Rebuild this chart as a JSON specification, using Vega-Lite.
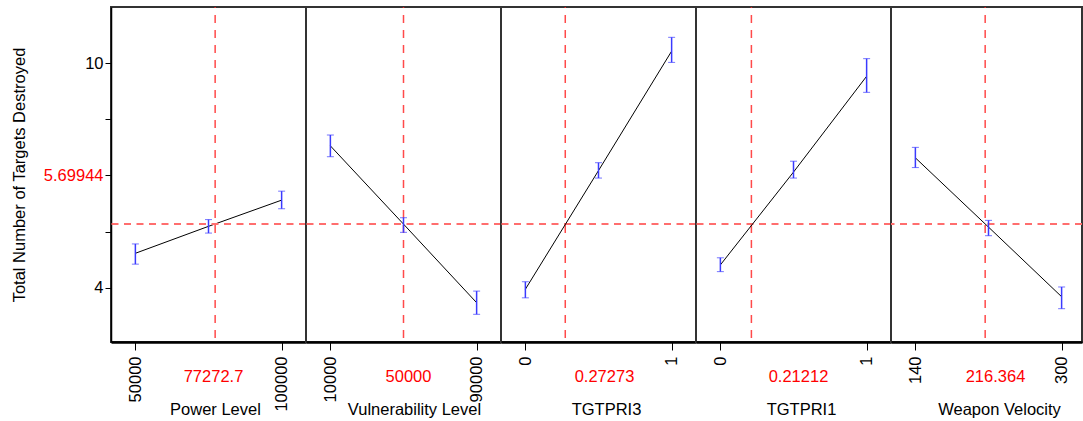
{
  "$schema": "https://vega.github.io/schema/vega-lite/v6.json",
  "padding": {"left": 10, "top": 5, "right": 0, "bottom": 0},
  "spacing": 0,
  "bounds": "flush",
  "config": {
    "font": "Liberation Sans",
    "view": {"stroke": "#333333", "strokeWidth": 2},
    "concat": {"spacing": 0},
    "axis": {"grid": false, "labelFont": "Liberation Sans", "titleFont": "Liberation Sans", "labelFontSize": 16.5, "titleFontSize": 16.5, "titleFontWeight": "normal", "labelColor": "black", "titleColor": "black", "tickColor": "black", "domainColor": "black"}
  },
  "datasets": {
    "profile": [
      {"factor": "Power Level", "level": 50000, "mean": 4.92, "lo": 4.63, "hi": 5.17},
      {"factor": "Power Level", "level": 75000, "mean": 5.64, "lo": 5.46, "hi": 5.82},
      {"factor": "Power Level", "level": 100000, "mean": 6.34, "lo": 6.11, "hi": 6.58},
      {"factor": "Vulnerability Level", "level": 10000, "mean": 7.79, "lo": 7.5, "hi": 8.08},
      {"factor": "Vulnerability Level", "level": 50000, "mean": 5.7, "lo": 5.48, "hi": 5.87},
      {"factor": "Vulnerability Level", "level": 90000, "mean": 3.6, "lo": 3.29, "hi": 3.91},
      {"factor": "TGTPRI3", "level": 0, "mean": 3.96, "lo": 3.73, "hi": 4.16},
      {"factor": "TGTPRI3", "level": 0.5, "mean": 7.13, "lo": 6.93, "hi": 7.34},
      {"factor": "TGTPRI3", "level": 1, "mean": 10.32, "lo": 10.02, "hi": 10.69},
      {"factor": "TGTPRI1", "level": 0, "mean": 4.61, "lo": 4.43, "hi": 4.8},
      {"factor": "TGTPRI1", "level": 0.5, "mean": 7.09, "lo": 6.93, "hi": 7.38},
      {"factor": "TGTPRI1", "level": 1, "mean": 9.65, "lo": 9.22, "hi": 10.12},
      {"factor": "Weapon Velocity", "level": 140, "mean": 7.47, "lo": 7.21, "hi": 7.75},
      {"factor": "Weapon Velocity", "level": 220, "mean": 5.62, "lo": 5.39, "hi": 5.8},
      {"factor": "Weapon Velocity", "level": 300, "mean": 3.76, "lo": 3.44, "hi": 4.02}
    ],
    "current": [
      {"factor": "Power Level", "setting": 77272.7, "pred": 5.69944},
      {"factor": "Vulnerability Level", "setting": 50000, "pred": 5.69944},
      {"factor": "TGTPRI3", "setting": 0.27273, "pred": 5.69944},
      {"factor": "TGTPRI1", "setting": 0.21212, "pred": 5.69944},
      {"factor": "Weapon Velocity", "setting": 216.364, "pred": 5.69944}
    ]
  },
  "hconcat": [
    {
      "width": 195, "height": 335,
      "resolve": {"axis": {"x": "independent"}},
      "layer": [
        {"data": {"name": "current"}, "transform": [{"filter": "datum.factor == 'Power Level'"}],
         "mark": {"type": "rule", "color": "#ff2a2a", "strokeWidth": 1.5, "strokeDash": [8, 7], "strokeDashOffset": 7, "opacity": 0.85},
         "encoding": {"x": {"field": "setting", "type": "quantitative", "scale": {"domain": [41666.67, 108333.33], "nice": false, "zero": false},
           "axis": {"orient": "bottom", "domain": false, "ticks": false, "labels": false, "title": "77272.7", "titleColor": "red", "titleX": 102, "titleY": 39.5, "titleBaseline": "alphabetic"}}}},
        {"data": {"name": "profile"}, "transform": [{"filter": "datum.factor == 'Power Level'"}],
         "mark": {"type": "line", "color": "black", "strokeWidth": 1},
         "encoding": {
           "x": {"field": "level", "type": "quantitative", "scale": {"domain": [41666.67, 108333.33], "nice": false, "zero": false},
             "axis": {"orient": "bottom", "values": [50000, 100000], "format": "d", "labelAngle": -90, "labelPadding": 6, "tickSize": 8, "domainWidth": 2.5, "title": "Power Level", "titleX": 104, "titleY": 72.5, "titleBaseline": "alphabetic"}},
           "y": {"field": "mean", "type": "quantitative", "title": "Total Number of Targets Destroyed", "scale": {"domain": [2.55, 11.5], "nice": false, "zero": false},
             "axis": {"values": [4, 5.5, 7, 8.5, 10], "labelExpr": "datum.value == 7 ? '5.69944' : ((datum.value == 5.5 || datum.value == 8.5) ? '' : datum.label)", "labelColor": {"condition": {"test": "datum.value == 7", "value": "red"}, "value": "black"}, "tickSize": 6, "labelPadding": 2, "domainWidth": 1.5, "title": "Total Number of Targets Destroyed", "titlePadding": 16}}}},
        {"data": {"name": "current"}, "transform": [{"filter": "datum.factor == 'Power Level'"}],
         "mark": {"type": "rule", "color": "#ff6e6e", "strokeWidth": 2, "strokeDash": [7, 5.5]},
         "encoding": {"y": {"field": "pred", "type": "quantitative", "title": "Total Number of Targets Destroyed", "scale": {"domain": [2.55, 11.5], "nice": false, "zero": false}}}},
        {"data": {"name": "profile"}, "transform": [{"filter": "datum.factor == 'Power Level'"}],
         "mark": {"type": "errorbar", "color": "#3a3aff", "ticks": {"size": 7}, "rule": {"strokeWidth": 1.5}},
         "encoding": {"x": {"field": "level", "type": "quantitative", "axis": null}, "y": {"field": "lo", "type": "quantitative", "title": "Total Number of Targets Destroyed"}, "y2": {"field": "hi", "title": "Total Number of Targets Destroyed"}}}
      ]
    },
    {
      "width": 195, "height": 335,
      "resolve": {"axis": {"x": "independent"}},
      "layer": [
        {"data": {"name": "current"}, "transform": [{"filter": "datum.factor == 'Vulnerability Level'"}],
         "mark": {"type": "rule", "color": "#ff2a2a", "strokeWidth": 1.5, "strokeDash": [8, 7], "strokeDashOffset": 7, "opacity": 0.85},
         "encoding": {"x": {"field": "setting", "type": "quantitative", "scale": {"domain": [-3333.33, 103333.33], "nice": false, "zero": false},
           "axis": {"orient": "bottom", "domain": false, "ticks": false, "labels": false, "title": "50000", "titleColor": "red", "titleX": 102, "titleY": 39.5, "titleBaseline": "alphabetic"}}}},
        {"data": {"name": "current"}, "transform": [{"filter": "datum.factor == 'Vulnerability Level'"}],
         "mark": {"type": "rule", "color": "#ff6e6e", "strokeWidth": 2, "strokeDash": [7, 5.5]},
         "encoding": {"y": {"field": "pred", "type": "quantitative", "scale": {"domain": [2.55, 11.5], "nice": false, "zero": false}, "axis": null}}},
        {"data": {"name": "profile"}, "transform": [{"filter": "datum.factor == 'Vulnerability Level'"}],
         "mark": {"type": "line", "color": "black", "strokeWidth": 1},
         "encoding": {
           "x": {"field": "level", "type": "quantitative", "scale": {"domain": [-3333.33, 103333.33], "nice": false, "zero": false},
             "axis": {"orient": "bottom", "values": [10000, 90000], "format": "d", "labelAngle": -90, "labelPadding": 6, "tickSize": 8, "domainWidth": 2.5, "title": "Vulnerability Level", "titleX": 108, "titleY": 72.5, "titleBaseline": "alphabetic"}},
           "y": {"field": "mean", "type": "quantitative", "scale": {"domain": [2.55, 11.5], "nice": false, "zero": false}, "axis": null}}},
        {"data": {"name": "profile"}, "transform": [{"filter": "datum.factor == 'Vulnerability Level'"}],
         "mark": {"type": "errorbar", "color": "#3a3aff", "ticks": {"size": 7}, "rule": {"strokeWidth": 1.5}},
         "encoding": {"x": {"field": "level", "type": "quantitative", "axis": null}, "y": {"field": "lo", "type": "quantitative", "axis": null}, "y2": {"field": "hi"}}}
      ]
    },
    {
      "width": 195, "height": 335,
      "resolve": {"axis": {"x": "independent"}},
      "layer": [
        {"data": {"name": "current"}, "transform": [{"filter": "datum.factor == 'TGTPRI3'"}],
         "mark": {"type": "rule", "color": "#ff2a2a", "strokeWidth": 1.5, "strokeDash": [8, 7], "strokeDashOffset": 7, "opacity": 0.85},
         "encoding": {"x": {"field": "setting", "type": "quantitative", "scale": {"domain": [-0.166667, 1.166667], "nice": false, "zero": false},
           "axis": {"orient": "bottom", "domain": false, "ticks": false, "labels": false, "title": "0.27273", "titleColor": "red", "titleX": 103, "titleY": 39.5, "titleBaseline": "alphabetic"}}}},
        {"data": {"name": "current"}, "transform": [{"filter": "datum.factor == 'TGTPRI3'"}],
         "mark": {"type": "rule", "color": "#ff6e6e", "strokeWidth": 2, "strokeDash": [7, 5.5]},
         "encoding": {"y": {"field": "pred", "type": "quantitative", "scale": {"domain": [2.55, 11.5], "nice": false, "zero": false}, "axis": null}}},
        {"data": {"name": "profile"}, "transform": [{"filter": "datum.factor == 'TGTPRI3'"}],
         "mark": {"type": "line", "color": "black", "strokeWidth": 1},
         "encoding": {
           "x": {"field": "level", "type": "quantitative", "scale": {"domain": [-0.166667, 1.166667], "nice": false, "zero": false},
             "axis": {"orient": "bottom", "values": [0, 1], "format": "d", "labelAngle": -90, "labelPadding": 6, "tickSize": 8, "domainWidth": 2.5, "title": "TGTPRI3", "titleX": 105, "titleY": 72.5, "titleBaseline": "alphabetic"}},
           "y": {"field": "mean", "type": "quantitative", "scale": {"domain": [2.55, 11.5], "nice": false, "zero": false}, "axis": null}}},
        {"data": {"name": "profile"}, "transform": [{"filter": "datum.factor == 'TGTPRI3'"}],
         "mark": {"type": "errorbar", "color": "#3a3aff", "ticks": {"size": 7}, "rule": {"strokeWidth": 1.5}},
         "encoding": {"x": {"field": "level", "type": "quantitative", "axis": null}, "y": {"field": "lo", "type": "quantitative", "axis": null}, "y2": {"field": "hi"}}}
      ]
    },
    {
      "width": 195, "height": 335,
      "resolve": {"axis": {"x": "independent"}},
      "layer": [
        {"data": {"name": "current"}, "transform": [{"filter": "datum.factor == 'TGTPRI1'"}],
         "mark": {"type": "rule", "color": "#ff2a2a", "strokeWidth": 1.5, "strokeDash": [8, 7], "strokeDashOffset": 7, "opacity": 0.85},
         "encoding": {"x": {"field": "setting", "type": "quantitative", "scale": {"domain": [-0.166667, 1.166667], "nice": false, "zero": false},
           "axis": {"orient": "bottom", "domain": false, "ticks": false, "labels": false, "title": "0.21212", "titleColor": "red", "titleX": 102, "titleY": 39.5, "titleBaseline": "alphabetic"}}}},
        {"data": {"name": "current"}, "transform": [{"filter": "datum.factor == 'TGTPRI1'"}],
         "mark": {"type": "rule", "color": "#ff6e6e", "strokeWidth": 2, "strokeDash": [7, 5.5]},
         "encoding": {"y": {"field": "pred", "type": "quantitative", "scale": {"domain": [2.55, 11.5], "nice": false, "zero": false}, "axis": null}}},
        {"data": {"name": "profile"}, "transform": [{"filter": "datum.factor == 'TGTPRI1'"}],
         "mark": {"type": "line", "color": "black", "strokeWidth": 1},
         "encoding": {
           "x": {"field": "level", "type": "quantitative", "scale": {"domain": [-0.166667, 1.166667], "nice": false, "zero": false},
             "axis": {"orient": "bottom", "values": [0, 1], "format": "d", "labelAngle": -90, "labelPadding": 6, "tickSize": 8, "domainWidth": 2.5, "title": "TGTPRI1", "titleX": 105, "titleY": 72.5, "titleBaseline": "alphabetic"}},
           "y": {"field": "mean", "type": "quantitative", "scale": {"domain": [2.55, 11.5], "nice": false, "zero": false}, "axis": null}}},
        {"data": {"name": "profile"}, "transform": [{"filter": "datum.factor == 'TGTPRI1'"}],
         "mark": {"type": "errorbar", "color": "#3a3aff", "ticks": {"size": 7}, "rule": {"strokeWidth": 1.5}},
         "encoding": {"x": {"field": "level", "type": "quantitative", "axis": null}, "y": {"field": "lo", "type": "quantitative", "axis": null}, "y2": {"field": "hi"}}}
      ]
    },
    {
      "width": 191, "height": 335,
      "resolve": {"axis": {"x": "independent"}},
      "layer": [
        {"data": {"name": "current"}, "transform": [{"filter": "datum.factor == 'Weapon Velocity'"}],
         "mark": {"type": "rule", "color": "#ff2a2a", "strokeWidth": 1.5, "strokeDash": [8, 7], "strokeDashOffset": 7, "opacity": 0.85},
         "encoding": {"x": {"field": "setting", "type": "quantitative", "scale": {"domain": [113.33, 322.3], "nice": false, "zero": false},
           "axis": {"orient": "bottom", "domain": false, "ticks": false, "labels": false, "title": "216.364", "titleColor": "red", "titleX": 104, "titleY": 39.5, "titleBaseline": "alphabetic"}}}},
        {"data": {"name": "current"}, "transform": [{"filter": "datum.factor == 'Weapon Velocity'"}],
         "mark": {"type": "rule", "color": "#ff6e6e", "strokeWidth": 2, "strokeDash": [7, 5.5]},
         "encoding": {"y": {"field": "pred", "type": "quantitative", "scale": {"domain": [2.55, 11.5], "nice": false, "zero": false}, "axis": null}}},
        {"data": {"name": "profile"}, "transform": [{"filter": "datum.factor == 'Weapon Velocity'"}],
         "mark": {"type": "line", "color": "black", "strokeWidth": 1},
         "encoding": {
           "x": {"field": "level", "type": "quantitative", "scale": {"domain": [113.33, 322.3], "nice": false, "zero": false},
             "axis": {"orient": "bottom", "values": [140, 300], "format": "d", "labelAngle": -90, "labelPadding": 6, "tickSize": 8, "domainWidth": 2.5, "title": "Weapon Velocity", "titleX": 108, "titleY": 72.5, "titleBaseline": "alphabetic"}},
           "y": {"field": "mean", "type": "quantitative", "scale": {"domain": [2.55, 11.5], "nice": false, "zero": false}, "axis": null}}},
        {"data": {"name": "profile"}, "transform": [{"filter": "datum.factor == 'Weapon Velocity'"}],
         "mark": {"type": "errorbar", "color": "#3a3aff", "ticks": {"size": 7}, "rule": {"strokeWidth": 1.5}},
         "encoding": {"x": {"field": "level", "type": "quantitative", "axis": null}, "y": {"field": "lo", "type": "quantitative", "axis": null}, "y2": {"field": "hi"}}}
      ]
    }
  ]
}
